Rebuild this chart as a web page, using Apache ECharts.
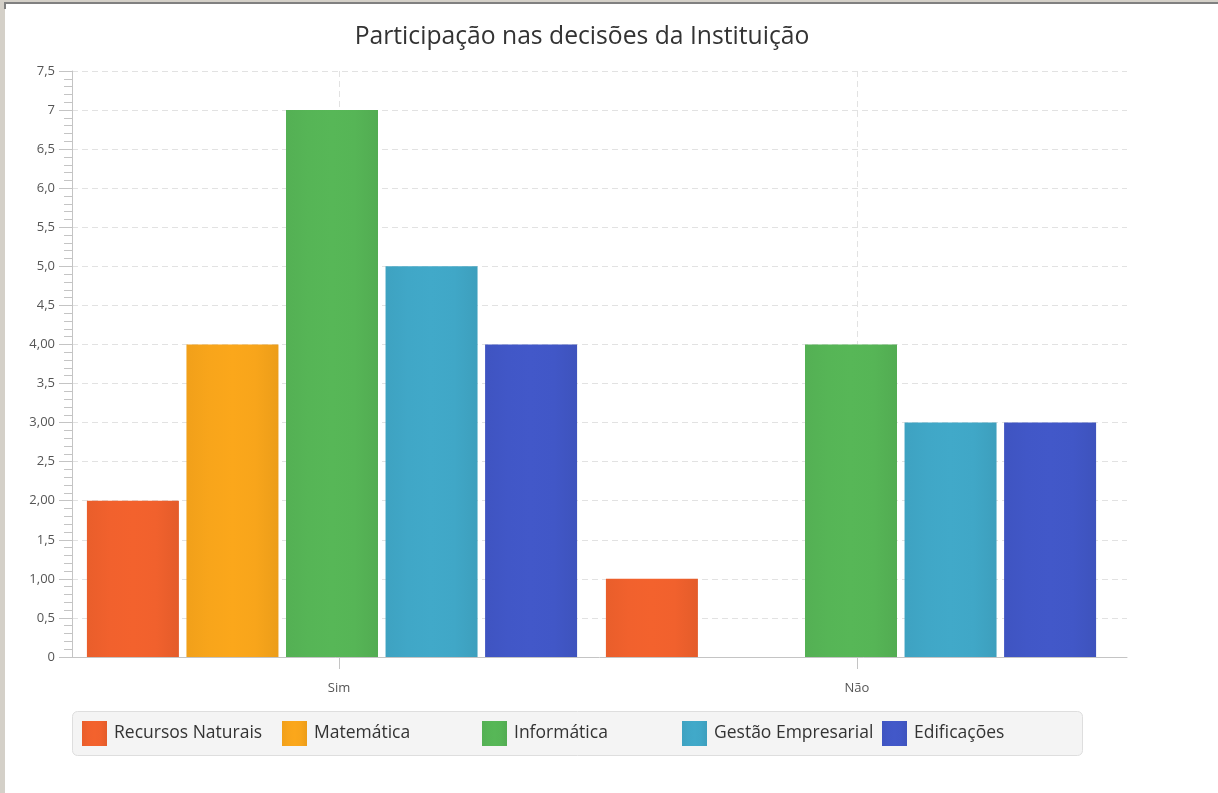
<!DOCTYPE html>
<html>
<head>
<meta charset="utf-8">
<script src="https://cdn.jsdelivr.net/npm/echarts@6/dist/echarts.min.js"></script>
<style>
  html, body { margin: 0; padding: 0; background: #ffffff; }
  #chart { width: 1218px; height: 793px; }
</style>
</head>
<body>
<div id="chart"></div>
<script>
// Categories and series values
const categories = ['Sim', 'Não'];
const seriesNames = ['Recursos Naturais', 'Matemática', 'Informática', 'Gestão Empresarial', 'Edificações'];
const recursosNaturais = [2, 1];
const matematica = [4, 0];
const informatica = [7, 4];
const gestaoEmpresarial = [5, 3];
const edificacoes = [4, 3];
const seriesColors = ['#f3622d', '#fba71b', '#57b757', '#41a9c9', '#4258c9'];
// Y axis tick labels, one per 0.5 step from 0 to 7.5
const yTickLabels = ['0', '0,5', '1,00', '1,5', '2,00', '2,5', '3,00', '3,5', '4,00', '4,5', '5,0', '5,5', '6,0', '6,5', '7', '7,5'];

const seriesValues = [recursosNaturais, matematica, informatica, gestaoEmpresarial, edificacoes];

function darken(hex, pct) {
  const n = parseInt(hex.slice(1), 16);
  const f = 1 - pct / 100;
  const r = Math.round(((n >> 16) & 255) * f);
  const g = Math.round(((n >> 8) & 255) * f);
  const b = Math.round((n & 255) * f);
  return 'rgb(' + r + ',' + g + ',' + b + ')';
}

function barFill(hex) {
  return new echarts.graphic.LinearGradient(0, 0, 1, 0, [
    { offset: 0, color: darken(hex, 4) },
    { offset: 0.25, color: darken(hex, 1) },
    { offset: 0.5, color: hex },
    { offset: 0.75, color: darken(hex, 1) },
    { offset: 1, color: darken(hex, 6) }
  ]);
}

const FONT = 'Open Sans';
const PLOT_TOP = 71, PLOT_H = 586;
const LEGEND_X = 82, LEGEND_STEP = 200;

const chart = echarts.init(document.getElementById('chart'), null, { renderer: 'canvas' });

// one legend entry per slot so the entries sit on an even pitch
const legends = seriesNames.map(function (name, i) {
  return {
    data: [name],
    left: LEGEND_X + LEGEND_STEP * i,
    top: 721,
    padding: 0,
    itemWidth: 25,
    itemHeight: 25,
    itemGap: 0,
    icon: 'rect',
    textStyle: { fontFamily: FONT, fontSize: 17.5, color: '#333333', padding: [2, 0, 0, 2] }
  };
});

const option = {
  backgroundColor: '#ffffff',
  animation: false,
  title: {
    text: 'Participação nas decisões da Instituição',
    left: 577,
    top: 19,
    textAlign: 'center',
    textStyle: { fontFamily: FONT, fontSize: 24.7, fontWeight: 'normal', color: '#333333' }
  },
  legend: legends,
  grid: [
    // axis frame and horizontal grid lines
    { left: 72, top: PLOT_TOP, width: 1055, height: PLOT_H },
    // category ticks, labels and vertical grid lines
    { left: 339, top: PLOT_TOP, width: 518, height: PLOT_H },
    // bars
    { left: 72.5, top: PLOT_TOP, width: 1038, height: PLOT_H }
  ],
  xAxis: [
    {
      gridIndex: 0, type: 'category', data: categories,
      axisLine: { show: true, lineStyle: { color: '#c4c4c4', width: 1 } },
      axisTick: { show: false }, axisLabel: { show: false }, splitLine: { show: false }
    },
    {
      gridIndex: 1, type: 'category', data: categories, boundaryGap: false,
      axisLine: { show: false },
      axisTick: { show: true, length: 12, lineStyle: { color: '#c4c4c4' } },
      axisLabel: { show: true, margin: 25, fontFamily: FONT, fontSize: 13, color: '#555555' },
      splitLine: { show: true, lineStyle: { color: '#e2e2e2', type: [6, 4], width: 1 } }
    },
    {
      gridIndex: 2, type: 'category', data: categories,
      axisLine: { show: false }, axisTick: { show: false }, axisLabel: { show: false }, splitLine: { show: false }
    }
  ],
  yAxis: [
    {
      gridIndex: 0, type: 'value', min: 0, max: 7.5, interval: 0.5,
      axisLine: { show: true, lineStyle: { color: '#c4c4c4', width: 1 } },
      axisTick: { show: true, length: 13, lineStyle: { color: '#c4c4c4' } },
      minorTick: { show: true, splitNumber: 5, length: 8, lineStyle: { color: '#c4c4c4' } },
      axisLabel: {
        margin: 17, fontFamily: FONT, fontSize: 13, color: '#555555',
        formatter: function (v) { return yTickLabels[Math.round(v / 0.5)]; }
      },
      splitLine: { show: true, lineStyle: { color: '#e2e2e2', type: [6, 4], width: 1 } }
    },
    {
      gridIndex: 1, type: 'value', min: 0, max: 7.5,
      show: false, splitLine: { show: false }
    },
    {
      gridIndex: 2, type: 'value', min: 0, max: 7.5,
      show: false, splitLine: { show: false }
    }
  ],
  series: seriesNames.map(function (name, i) {
    return {
      name: name,
      type: 'bar',
      xAxisIndex: 2,
      yAxisIndex: 2,
      data: seriesValues[i],
      barWidth: 92,
      barGap: '8.2%',
      itemStyle: { color: barFill(seriesColors[i]) }
    };
  }),
  graphic: [
    // legend panel
    { type: 'rect', left: 72, top: 711, shape: { width: 1010, height: 44, r: 5 },
      style: { fill: '#f4f4f4', stroke: '#dedede', lineWidth: 1 }, z: -1, silent: true },
    // window frame
    { type: 'rect', left: 0, top: 0, shape: { width: 5, height: 793 }, style: { fill: '#d4d0c8' }, z: 100 },
    { type: 'rect', left: 0, top: 0, shape: { width: 1218, height: 2 }, style: { fill: '#d4d0c8' }, z: 100 },
    { type: 'rect', left: 4, top: 2, shape: { width: 1214, height: 2 }, style: { fill: '#808080' }, z: 101 },
    { type: 'rect', left: 4, top: 2, shape: { width: 2, height: 7 }, style: { fill: '#808080' }, z: 101 }
  ]
};

chart.setOption(option);
</script>
</body>
</html>
